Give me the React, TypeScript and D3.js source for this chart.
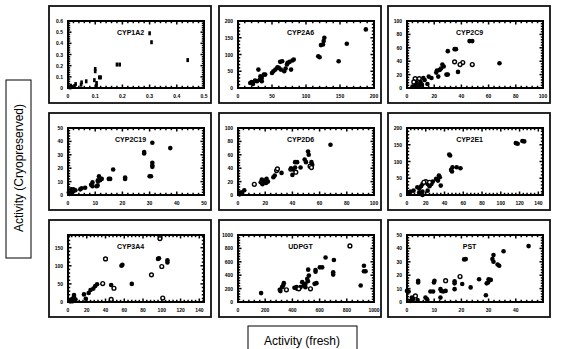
import React, { useEffect, useRef } from "react";
import * as d3 from "d3";

// ---- values (fresh vs cryopreserved activity) ----
const cyp1a2X = [0.3, 0.307, 0.44, 0.18, 0.19, 0.1, 0.1, 0.115, 0.12, 0.097, 0.105, 0.105, 0.067, 0.05, 0.048, 0.028, 0.024, 0.01, 0.008, 0.015];
const cyp1a2Y = [0.49, 0.41, 0.25, 0.21, 0.21, 0.17, 0.15, 0.095, 0.095, 0.07, 0.045, 0.02, 0.06, 0.05, 0.03, 0.035, 0.018, 0.02, 0.005, 0.01];

const cyp2a6X = [18, 20, 22, 25, 28, 30, 33, 35, 38, 40, 35, 32, 50, 52, 55, 58, 60, 62, 65, 63, 68, 70, 72, 73, 76, 78, 80, 82, 118, 120, 122, 125, 126, 127, 148, 160, 188];
const cyp2a6Y = [15, 18, 12, 22, 20, 55, 35, 30, 40, 40, 20, 25, 45, 50, 55, 62, 60, 78, 80, 55, 50, 58, 70, 75, 78, 55, 82, 85, 95, 92, 128, 130, 140, 150, 80, 132, 175];

const cyp2c9X = [46, 48, 35, 36, 30, 68, 37.5, 27, 26, 25, 24, 22, 21.5, 23, 29, 30, 16, 18, 12, 13, 7, 10, 15, 6, 9, 11, 4];
const cyp2c9Y = [70, 70, 58, 58, 55, 37, 24, 32, 35, 29, 27, 26, 23, 17, 20, 20, 17, 15, 15, 12, 8, 9, 6, 4, 4, 5, 2];
const cyp2c9OpenX = [41, 39, 48, 35, 9, 6, 5];
const cyp2c9OpenY = [38, 35, 35, 39, 14, 14, 9];

const cyp2c19X = [31, 37.6, 28, 28, 31, 31, 31, 30, 30.5, 21, 21, 16.6, 15, 15.5, 11.4, 11.8, 12.4, 11, 11, 10.9, 10.5, 9, 8.5, 9, 6.3, 5, 4.5, 2.7, 2, 1.5, 0.8, 0.5, 0.3, 1.2, 2];
const cyp2c19Y = [39, 35, 32, 31, 24, 22, 21, 14, 14, 12, 13, 19, 12, 12, 14, 11, 12, 10, 11, 7, 6.5, 9.4, 7.7, 6.5, 5.4, 5, 4.2, 3.5, 3, 2.3, 1.4, 0.7, 1.9, 4.2, 4.2];

const cyp2d6X = [68, 51.5, 52, 49, 50, 54, 54.6, 43.5, 42, 42, 40.5, 46, 38.6, 39, 40, 32, 27, 26, 21, 20, 18.7, 17.5, 22, 20.6, 16.7, 18, 1.7, 1.2, 3, 4.6];
const cyp2d6Y = [75, 65, 60, 53, 49, 49, 45, 49, 49, 41, 38, 41, 38, 40, 30, 33, 29, 26.4, 24, 22, 21, 23, 20, 18, 19, 16, 3.5, 1, 3.5, 7];
const cyp2d6OpenX = [53, 42.5, 28.4, 29, 12, 54];
const cyp2d6OpenY = [43, 34, 36.5, 39, 16, 41];

const cyp2e1X = [116, 118, 123, 125, 45, 46, 48.5, 53, 57, 47, 48, 34, 35, 31, 33, 36, 27.5, 26, 16.5, 15, 13, 22, 24, 22, 16.5, 13, 7, 3.7, 2, 11, 16.5];
const cyp2e1Y = [155, 153, 161, 160, 121, 118, 83, 83, 80, 75, 70, 58, 53, 48, 43, 28, 40, 33, 33, 26, 20, 33, 26, 13, 10, 8, 13, 10, 8, 23, 0];
const cyp2e1OpenX = [20, 18, 24];
const cyp2e1OpenY = [40, 38, 38];

const cyp3a4X = [97, 96, 106, 106, 58, 57, 68, 31, 29, 27, 24, 22, 17, 19, 6.4, 6.4, 4.6, 3, 8, 3, 5, 2, 46];
const cyp3a4Y = [121, 119, 115, 109, 103, 100, 50, 49, 44, 37, 33, 25, 21, 9, 19, 14, 9, 5, 7, 2, 2, 2, 47];
const cyp3a4OpenX = [98, 100, 40, 89, 37, 49, 101, 46];
const cyp3a4OpenY = [175, 98, 119, 75, 51, 38, 11, 7];

const udpgtX = [644, 705, 700, 700, 926, 926, 938, 902, 602, 619, 570, 570, 516, 521, 509, 514, 577, 563, 496, 484, 472, 459, 430, 415, 435, 496, 337, 332, 324, 307, 312, 170];
const udpgtY = [665, 626, 443, 409, 542, 458, 458, 246, 517, 517, 478, 453, 483, 394, 345, 310, 281, 271, 271, 246, 296, 222, 222, 212, 197, 222, 281, 246, 222, 182, 163, 133];
const udpgtOpenX = [823, 447, 533, 356];
const udpgtOpenY = [837, 197, 197, 182];

const pstX = [44.7, 35.5, 31.8, 31.4, 31.8, 33.3, 33.9, 21.6, 21, 26.5, 30.8, 30, 29.8, 29.3, 29, 23.4, 20.3, 17.5, 17.5, 17.5, 14.2, 13.3, 12.3, 12.6, 12.3, 9.9, 10.1, 8.6, 9.6, 6.8, 7.4, 4.1, 4.1, 3.9, 1.8, 2.2, 0, 0.6, 1.2];
const pstY = [41.7, 37.9, 35, 32, 30, 28, 27, 32, 31.8, 17, 16.5, 17, 14.6, 13.9, 5, 10.9, 13.4, 15.4, 13.9, 9.6, 8.3, 7.8, 9.6, 8.3, 3.3, 14.6, 15.9, 7.8, 7.8, 3.3, 2, 15.9, 14.6, 1.5, 3.3, 2, 8.3, 7.8, 0.8];
const pstOpenX = [19.5, 14.2, 3.1];
const pstOpenY = [19, 15.9, 4.5];

// tick labels
const ticksTenths = [0, 0.1, 0.2, 0.3, 0.4, 0.5];
const ticksTenths6 = [0, 0.1, 0.2, 0.3, 0.4, 0.5, 0.6];
const ticks200by50 = [0, 50, 100, 150, 200];
const ticks100by20 = [0, 20, 40, 60, 80, 100];
const ticks50by10 = [0, 10, 20, 30, 40, 50];
const ticks140by20 = [0, 20, 40, 60, 80, 100, 120, 140];
const ticks150by50 = [0, 50, 100, 150];
const ticks1000by200 = [0, 200, 400, 600, 800, 1000];
const ticksPstX = [0, 10, 20, 30, 40];

const panels = [
  { title: "CYP1A2", x: cyp1a2X, y: cyp1a2Y, ox: [], oy: [], xd: [0, 0.5], xt: ticksTenths, yd: [0, 0.6], yt: ticksTenths6, square: true },
  { title: "CYP2A6", x: cyp2a6X, y: cyp2a6Y, ox: [], oy: [], xd: [0, 200], xt: ticks200by50, yd: [0, 200], yt: ticks200by50 },
  { title: "CYP2C9", x: cyp2c9X, y: cyp2c9Y, ox: cyp2c9OpenX, oy: cyp2c9OpenY, xd: [0, 100], xt: ticks100by20, yd: [0, 100], yt: ticks100by20 },
  { title: "CYP2C19", x: cyp2c19X, y: cyp2c19Y, ox: [], oy: [], xd: [0, 50], xt: ticks50by10, yd: [0, 50], yt: ticks50by10 },
  { title: "CYP2D6", x: cyp2d6X, y: cyp2d6Y, ox: cyp2d6OpenX, oy: cyp2d6OpenY, xd: [0, 100], xt: ticks100by20, yd: [0, 100], yt: ticks100by20 },
  { title: "CYP2E1", x: cyp2e1X, y: cyp2e1Y, ox: cyp2e1OpenX, oy: cyp2e1OpenY, xd: [0, 145], xt: ticks140by20, yd: [0, 200], yt: ticks200by50 },
  { title: "CYP3A4", x: cyp3a4X, y: cyp3a4Y, ox: cyp3a4OpenX, oy: cyp3a4OpenY, xd: [0, 145], xt: ticks140by20, yd: [0, 185], yt: ticks150by50 },
  { title: "UDPGT", x: udpgtX, y: udpgtY, ox: udpgtOpenX, oy: udpgtOpenY, xd: [0, 1000], xt: ticks1000by200, yd: [0, 1000], yt: ticks1000by200 },
  { title: "PST", x: pstX, y: pstY, ox: pstOpenX, oy: pstOpenY, xd: [0, 50], xt: ticksPstX, yd: [0, 50], yt: ticks50by10 },
];

const colX = [49, 219, 388];
const rowY = [6, 113, 220];
const boxW = 162;
const boxH = 97;

export default function App() {
  const ref = useRef<SVGSVGElement>(null);

  useEffect(() => {
    const svg = d3.select(ref.current);
    svg.selectAll("*").remove();
    const font = "Arial, 'Liberation Sans', sans-serif";

    // y axis label box
    svg.append("rect").attr("x", 6).attr("y", 80).attr("width", 25).attr("height", 178)
      .attr("fill", "white").attr("stroke", "black").attr("stroke-width", 1);
    svg.append("text")
      .attr("transform", "translate(19,168) rotate(-90)")
      .attr("text-anchor", "middle").attr("dominant-baseline", "central")
      .style("font-family", font).style("font-size", "12px")
      .text("Activity (Cryopreserved)");

    // x axis label box
    svg.append("rect").attr("x", 248).attr("y", 326).attr("width", 109).attr("height", 30)
      .attr("fill", "white").attr("stroke", "black").attr("stroke-width", 1);
    svg.append("text")
      .attr("x", 302).attr("y", 341)
      .attr("text-anchor", "middle").attr("dominant-baseline", "central")
      .style("font-family", font).style("font-size", "12px")
      .text("Activity (fresh)");

    panels.forEach((p, i) => {
      const bx = colX[i % 3];
      const by = rowY[Math.floor(i / 3)];
      const g = svg.append("g").attr("transform", "translate(" + bx + "," + by + ")");

      g.append("rect").attr("x", 0).attr("y", 0).attr("width", boxW).attr("height", boxH)
        .attr("fill", "white").attr("stroke", "#111").attr("stroke-width", 1.8);

      const left = 19, right = 155, top = 15, bottom = 82;
      const x = d3.scaleLinear().domain(p.xd).range([left, right]);
      const y = d3.scaleLinear().domain(p.yd).range([bottom, top]);

      // frame
      g.append("rect").attr("x", left).attr("y", top).attr("width", right - left).attr("height", bottom - top)
        .attr("fill", "none").attr("stroke", "black").attr("stroke-width", 2);

      // ticks on all four sides, pointing inward
      const xStep = p.xt[1] - p.xt[0];
      const yStep = p.yt[1] - p.yt[0];
      const xMinor = d3.range(p.xd[0], p.xd[1] + 1e-9, xStep / 5);
      const yMinor = d3.range(p.yd[0], p.yd[1] + 1e-9, yStep / 5);
      const tick = g.append("g").attr("stroke", "black").attr("stroke-width", 1.5);
      xMinor.forEach((v, k) => {
        const len = k % 5 === 0 ? 3.5 : 2.2;
        tick.append("line").attr("x1", x(v)).attr("x2", x(v)).attr("y1", bottom).attr("y2", bottom - len);
        tick.append("line").attr("x1", x(v)).attr("x2", x(v)).attr("y1", top).attr("y2", top + len);
      });
      yMinor.forEach((v, k) => {
        const len = k % 5 === 0 ? 3.5 : 2.2;
        tick.append("line").attr("y1", y(v)).attr("y2", y(v)).attr("x1", left).attr("x2", left + len);
        tick.append("line").attr("y1", y(v)).attr("y2", y(v)).attr("x1", right).attr("x2", right - len);
      });

      // tick labels
      g.append("g").selectAll("text").data(p.xt).join("text")
        .attr("x", (d) => x(d)).attr("y", bottom + 10)
        .attr("text-anchor", "middle")
        .style("font-family", font).style("font-size", "5px").style("font-weight", "bold")
        .text((d) => String(d));
      g.append("g").selectAll("text").data(p.yt).join("text")
        .attr("x", left - 5).attr("y", (d) => y(d))
        .attr("text-anchor", "end").attr("dominant-baseline", "central")
        .style("font-family", font).style("font-size", "5px").style("font-weight", "bold")
        .text((d) => String(d));

      // title
      g.append("text")
        .attr("x", left + (right - left) * 0.46).attr("y", top + 14)
        .attr("text-anchor", "middle")
        .style("font-family", font).style("font-size", "7px").style("font-weight", "bold")
        .text(p.title);

      // points
      const filled = p.x.map((v, k) => [v, p.y[k]]);
      const open = p.ox.map((v, k) => [v, p.oy[k]]);
      if (p.square) {
        g.append("g").selectAll("rect").data(filled).join("rect")
          .attr("x", (d) => x(d[0]) - 1.3).attr("y", (d) => y(d[1]) - 2)
          .attr("width", 2.6).attr("height", 4).attr("fill", "black");
      } else {
        g.append("g").selectAll("circle").data(filled).join("circle")
          .attr("cx", (d) => x(d[0])).attr("cy", (d) => y(d[1])).attr("r", 2.3).attr("fill", "black");
      }
      g.append("g").selectAll("circle").data(open).join("circle")
        .attr("cx", (d) => x(d[0])).attr("cy", (d) => y(d[1])).attr("r", 1.9)
        .attr("fill", "white").attr("stroke", "black").attr("stroke-width", 1.4);
    });
  }, []);

  return (
    <div style={{ position: "absolute", left: 0, top: 0 }}>
      <svg ref={ref} width={568} height={349} style={{ display: "block", background: "white" }} />
    </div>
  );
}
